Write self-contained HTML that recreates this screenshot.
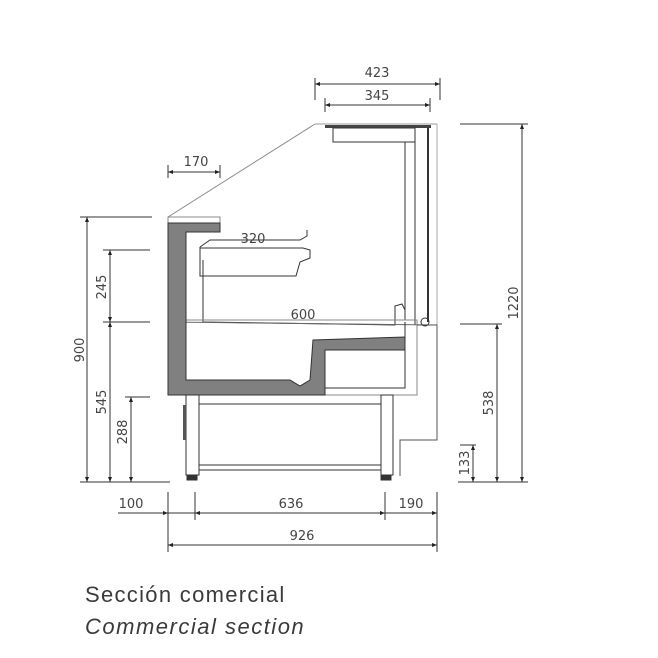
<!DOCTYPE html>
<html><head><meta charset="utf-8"><style>
html,body{margin:0;padding:0;background:#fff;width:658px;height:658px;overflow:hidden}
svg{display:block}
text{font-family:"DejaVu Sans","Liberation Sans",sans-serif;fill:#444}
</style></head><body>
<svg width="658" height="658" viewBox="0 0 658 658">
<defs>
<marker id="a" viewBox="0 0 10 10" refX="10" refY="5" markerWidth="7" markerHeight="5" orient="auto-start-reverse"><path d="M0,1 L10,5 L0,9z" fill="#222"/></marker>
</defs>
<g stroke="#333" stroke-width="1" fill="none">
<line x1="168" y1="217" x2="315" y2="124" stroke="#888"/>
<line x1="315" y1="124" x2="437" y2="124" stroke="#999"/>
<rect x="325" y="125" width="106" height="3" fill="#444" stroke="none"/>
<rect x="333" y="128" width="82" height="14"/>
<line x1="405" y1="142" x2="405" y2="320"/>
<line x1="415" y1="142" x2="415" y2="325"/>
<line x1="428" y1="128" x2="428" y2="322" stroke-width="2"/>
<line x1="437" y1="124" x2="437" y2="325" stroke="#aaa"/>
<rect x="168" y="217" width="52" height="6" stroke="#888"/>
<path d="M200 247 L210 240 L300 240 L307 236 L307 230 M200 247 L200 276 L296 276 L300 262 L310 258 L310 250 L303 248 L200 248"/>
<path d="M203 260 L203 322 L395 325 L395 306 L402 304 L405 310"/>
<line x1="168" y1="322" x2="437" y2="325" stroke="#666"/>
<rect x="168" y="320" width="249" height="75" stroke="#888"/>
<path d="M417 325 L437 325 L437 440 L400 440 L400 476" stroke="#555"/>
<path d="M405 322 L405 388 L325 388"/>
<rect x="186" y="395" width="13" height="80"/>
<rect x="381" y="395" width="12" height="80"/>
<line x1="199" y1="404" x2="381" y2="404"/>
<line x1="199" y1="465" x2="381" y2="465"/>
<line x1="199" y1="470" x2="381" y2="470"/>
<rect x="187" y="475" width="10" height="5" fill="#333"/>
<rect x="381" y="475" width="10" height="5" fill="#333"/>
<rect x="183" y="405" width="3" height="35" fill="#555" stroke="none"/>
</g>
<path d="M168 223 L220 223 L220 232 L186 232 L186 380 L290 380 L300 386 L310 380 L313 340 L405 337 L405 350 L325 350 L325 395 L168 395 Z" fill="#808080" stroke="#333"/>
<circle cx="425" cy="322" r="4" fill="none" stroke="#333"/>
<g stroke="#333" stroke-width="1" fill="none">
<line x1="80" y1="217" x2="152" y2="217"/>
<line x1="103" y1="250" x2="150" y2="250"/>
<line x1="103" y1="322" x2="150" y2="322"/>
<line x1="125" y1="397" x2="150" y2="397"/>
<line x1="80" y1="482" x2="170" y2="482"/>
<line x1="87" y1="217" x2="87" y2="482" marker-start="url(#a)" marker-end="url(#a)"/>
<line x1="110" y1="250" x2="110" y2="322" marker-start="url(#a)" marker-end="url(#a)"/>
<line x1="110" y1="322" x2="110" y2="482" marker-start="url(#a)" marker-end="url(#a)"/>
<line x1="131" y1="397" x2="131" y2="482" marker-start="url(#a)" marker-end="url(#a)"/>
<line x1="460" y1="124" x2="528" y2="124"/>
<line x1="460" y1="324" x2="502" y2="324"/>
<line x1="458" y1="482" x2="528" y2="482"/>
<line x1="460" y1="445" x2="476" y2="445"/>
<line x1="522" y1="124" x2="522" y2="482" marker-start="url(#a)" marker-end="url(#a)"/>
<line x1="497" y1="324" x2="497" y2="482" marker-start="url(#a)" marker-end="url(#a)"/>
<line x1="473" y1="445" x2="473" y2="482" marker-start="url(#a)" marker-end="url(#a)"/>
<line x1="315" y1="78" x2="315" y2="100"/>
<line x1="440" y1="78" x2="440" y2="100"/>
<line x1="325" y1="98" x2="325" y2="112"/>
<line x1="430" y1="98" x2="430" y2="112"/>
<line x1="315" y1="84" x2="440" y2="84" marker-start="url(#a)" marker-end="url(#a)"/>
<line x1="325" y1="105" x2="430" y2="105" marker-start="url(#a)" marker-end="url(#a)"/>
<line x1="168" y1="165" x2="168" y2="178"/>
<line x1="220" y1="165" x2="220" y2="178"/>
<line x1="168" y1="172" x2="220" y2="172" marker-start="url(#a)" marker-end="url(#a)"/>
<line x1="168" y1="492" x2="168" y2="552"/>
<line x1="195" y1="492" x2="195" y2="520"/>
<line x1="385" y1="492" x2="385" y2="520"/>
<line x1="437" y1="492" x2="437" y2="552"/>
<line x1="118" y1="513" x2="168" y2="513" marker-end="url(#a)"/>
<line x1="168" y1="513" x2="437" y2="513"/>
<line x1="195" y1="513" x2="385" y2="513" marker-start="url(#a)" marker-end="url(#a)"/>
<line x1="385" y1="513" x2="437" y2="513" marker-end="url(#a)"/>
<line x1="168" y1="545" x2="437" y2="545" marker-start="url(#a)" marker-end="url(#a)"/>
</g>
<g font-size="13">
<text x="377" y="77" text-anchor="middle">423</text>
<text x="377" y="100" text-anchor="middle">345</text>
<text x="196" y="166" text-anchor="middle">170</text>
<text x="253" y="243" text-anchor="middle">320</text>
<text x="303" y="319" text-anchor="middle">600</text>
<text x="131" y="508" text-anchor="middle">100</text>
<text x="291" y="508" text-anchor="middle">636</text>
<text x="411" y="508" text-anchor="middle">190</text>
<text x="302" y="540" text-anchor="middle">926</text>
<text transform="translate(84,350) rotate(-90)" text-anchor="middle">900</text>
<text transform="translate(106,287) rotate(-90)" text-anchor="middle">245</text>
<text transform="translate(106,402) rotate(-90)" text-anchor="middle">545</text>
<text transform="translate(127,432) rotate(-90)" text-anchor="middle">288</text>
<text transform="translate(518,303) rotate(-90)" text-anchor="middle">1220</text>
<text transform="translate(493,403) rotate(-90)" text-anchor="middle">538</text>
<text transform="translate(469,463) rotate(-90)" text-anchor="middle">133</text>
</g>
<text x="85" y="602" font-size="22" letter-spacing="1.3" style="font-family:'Liberation Sans',sans-serif;fill:#3a3a3a">Sección comercial</text>
<text x="85" y="634" font-size="22" font-style="italic" letter-spacing="1.5" style="font-family:'Liberation Sans',sans-serif;fill:#3a3a3a">Commercial section</text>
</svg>
</body></html>
